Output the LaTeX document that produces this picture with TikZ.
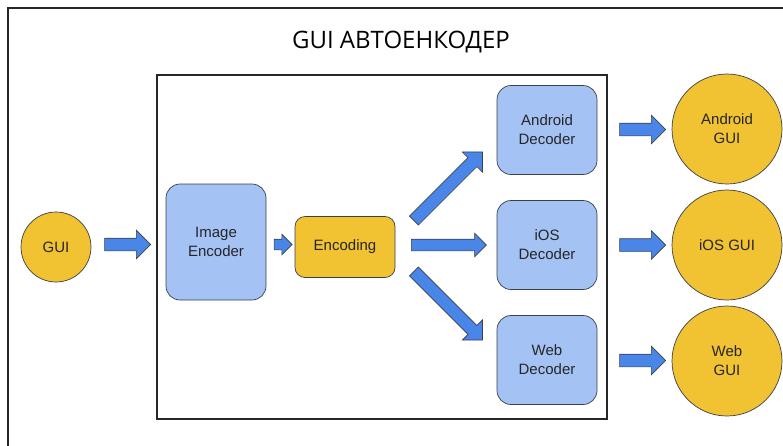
\documentclass[tikz,border=0pt]{standalone}
\usepackage{fontspec}
\setmainfont{Liberation Sans}
\newfontfamily\titlefont{Open Sans}
\usetikzlibrary{shapes.arrows, calc, positioning}
\definecolor{boxblue}{HTML}{A4C2F4}
\definecolor{arrowblue}{HTML}{4A86E8}
\definecolor{guiyellow}{HTML}{F1C232}
\definecolor{edgegray}{HTML}{3A3F4A}
\tikzstyle{block} = [rectangle, rounded corners=14pt, minimum width=100pt, minimum height=89pt, align=center, draw=edgegray, line width=0.7pt, fill=boxblue, text=black!85, font=\fontsize{15}{19}\selectfont]
\tikzstyle{codebox} = [block, fill=guiyellow, minimum height=61pt, rounded corners=10pt]
\tikzstyle{circ} = [circle, align=center, draw=edgegray, line width=0.7pt, fill=guiyellow, text=black!85, font=\fontsize{15}{19}\selectfont]
\tikzstyle{fat} = [single arrow, draw=edgegray, fill=arrowblue, line width=0.6pt, inner sep=0pt, inner ysep=6pt, minimum width=0pt, single arrow head extend=8pt]
\tikzstyle{frame} = [draw=black!85, line width=1.4pt]

\begin{document}
\begin{tikzpicture}[x=1pt, y=-1pt]

    \useasboundingbox (0, 0) rectangle (783, 445);
    \clip (0, 0) rectangle (783, 445);
    \draw [frame] (8, 8) rectangle (800, 470);
    \node (title) at (401, 42) {\titlefont\fontsize{24}{28}\selectfont GUI АВТОЕНКОДЕР};
    \draw [frame] (157, 75) rectangle (607, 419);

    \node (gui) [circ, minimum size=70pt] at (56, 247) {GUI};
    \node (imgenc) [block, minimum height=116pt] at (216, 242) {Image\\Encoder};
    \node (enc) [codebox] at (345, 247) {Encoding};
    \node (anddec) [block] at (547, 130) {Android\\Decoder};
    \node (iosdec) [block] at (547, 245) {iOS\\Decoder};
    \node (webdec) [block] at (547, 360) {Web\\Decoder};
    \node (andgui) [circ, minimum size=110pt] at (727, 129) {Android\\GUI};
    \node (iosgui) [circ, minimum size=110pt] at (727, 245) {iOS GUI};
    \node (webgui) [circ, minimum size=110pt] at (727, 361) {Web\\GUI};

    \node (a1) [fat, minimum height=46pt] at ($(gui.east)!0.5!(imgenc.west) + (-4, 0)$) {};
    \node (a2) [fat, minimum height=18pt, inner ysep=5pt, single arrow head extend=5pt] at ($(imgenc.east)!0.5!(enc.west)$) {};
    \node (a3) [fat, minimum height=97pt, rotate=45] at ($(enc.east)!0.5!(anddec.west)$) {};
    \node (a4) [fat, minimum height=75pt, inner ysep=5.5pt, single arrow head extend=6pt] at ($(enc.east |- iosdec)!0.5!(iosdec.west)$) {};
    \node (a5) [fat, minimum height=97pt, rotate=-45] at ($(enc.east)!0.5!(webdec.west)$) {};
    \node (a6) [fat, minimum height=46pt] at ($(anddec.east)!0.5!(andgui.west) + (5, 0)$) {};
    \node (a7) [fat, minimum height=46pt] at ($(iosdec.east)!0.5!(iosgui.west) + (5, 0)$) {};
    \node (a8) [fat, minimum height=46pt] at ($(webdec.east)!0.5!(webgui.west) + (5, 0)$) {};

\end{tikzpicture}
\end{document}
